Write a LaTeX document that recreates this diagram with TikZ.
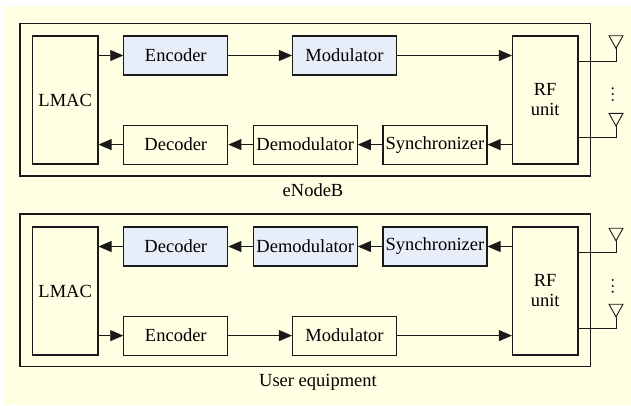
\documentclass[tikz,border=0pt]{standalone}
\usepackage{fontspec}
\newfontfamily\diagfont{Liberation Serif}
\usetikzlibrary{arrows.meta}
\definecolor{bgcream}{HTML}{FFFFE3}
\definecolor{blockblue}{HTML}{E7EEF9}
\definecolor{ink}{HTML}{1A1A1A}
\begin{document}
\begin{tikzpicture}[x=1pt,y=-1pt,
  font=\diagfont\fontsize{18.5}{20}\selectfont,
  block/.style={draw=ink, line width=1.1pt, inner sep=0pt, align=center},
  plainblk/.style={block},
  blueblk/.style={block, fill=blockblue},
  wide/.style={minimum width=104pt, minimum height=39pt},
  tall/.style={minimum width=65.5pt, minimum height=128pt},
  frame/.style={draw=ink, line width=1.2pt},
  link/.style={draw=ink, line width=0.9pt, -{Triangle[length=13pt,width=11pt]}},
  wire/.style={draw=ink, line width=0.9pt},
  dotmark/.style={fill=ink, draw=none}]

% canvas
\useasboundingbox (0,0) rectangle (631,405);
\fill[bgcream] (4,6) rectangle (631,405);

% ---------- eNodeB ----------
\draw[frame] (20,23.3) rectangle (590.7,176);
\node (lblA) at (313,190) {eNodeB};

\node[plainblk, tall] (lmacA) at (65.2,100) {LMAC};
\node[blueblk, wide]  (encA)  at (175.8,55.5) {Encoder};
\node[blueblk, wide]  (modA)  at (344.5,55.5) {Modulator};
\node[plainblk, wide] (decA)  at (175.8,144.6) {Decoder};
\node[plainblk, wide] (demA)  at (305.3,144.6) {Demodulator};
\node[plainblk, wide] (synA)  at (435,144.6) {Synchronizer};
\node[plainblk, tall] (rfA)   at (545.2,100) {RF\\unit};

\draw[link] (lmacA.east |- encA) -- (encA);
\draw[link] (encA) -- (modA);
\draw[link] (modA) -- (rfA.west |- modA);
\draw[link] (rfA.west |- synA) -- (synA);
\draw[link] (synA) -- (demA);
\draw[link] (demA) -- (decA);
\draw[link] (decA) -- (lmacA.east |- decA);

% antennas
\coordinate (kA1) at (616,61);
\coordinate (tA1) at (616,48.3);
\coordinate (kA2) at (616,137.7);
\coordinate (tA2) at (616,126);
\draw[wire] (rfA.east |- kA1) -- (kA1) -- (tA1);
\draw[wire] (tA1) -- ++(-7,-12.6) -- ++(14,0) -- cycle;
\draw[wire] (rfA.east |- kA2) -- (kA2) -- (tA2);
\draw[wire] (tA2) -- ++(-7,-12.6) -- ++(14,0) -- cycle;
\foreach \yy in {88.3,94,100}
  \fill[dotmark] (612.7,\yy) circle (1.2);

% ---------- User equipment ----------
\draw[frame] (20,214) rectangle (590.7,366.7);
\node (lblB) at (318,382.5) {User equipment};

\node[plainblk, tall] (lmacB) at (65.2,291) {LMAC};
\node[blueblk, wide]  (decB)  at (175.8,246.5) {Decoder};
\node[blueblk, wide]  (demB)  at (305.3,246.5) {Demodulator};
\node[blueblk, wide]  (synB)  at (435,246.5) {Synchronizer};
\node[plainblk, wide] (encB)  at (175.8,335.6) {Encoder};
\node[plainblk, wide] (modB)  at (344.5,335.6) {Modulator};
\node[plainblk, tall] (rfB)   at (545.2,291) {RF\\unit};

\draw[link] (rfB.west |- synB) -- (synB);
\draw[link] (synB) -- (demB);
\draw[link] (demB) -- (decB);
\draw[link] (decB) -- (lmacB.east |- decB);
\draw[link] (lmacB.east |- encB) -- (encB);
\draw[link] (encB) -- (modB);
\draw[link] (modB) -- (rfB.west |- modB);

% antennas
\coordinate (kB1) at (616,252.3);
\coordinate (tB1) at (616,240.8);
\coordinate (kB2) at (616,328.3);
\coordinate (tB2) at (616,316.8);
\draw[wire] (rfB.east |- kB1) -- (kB1) -- (tB1);
\draw[wire] (tB1) -- ++(-7,-12.6) -- ++(14,0) -- cycle;
\draw[wire] (rfB.east |- kB2) -- (kB2) -- (tB2);
\draw[wire] (tB2) -- ++(-7,-12.6) -- ++(14,0) -- cycle;
\foreach \yy in {280,286,291.7}
  \fill[dotmark] (612.7,\yy) circle (1.2);
\end{tikzpicture}
\end{document}
